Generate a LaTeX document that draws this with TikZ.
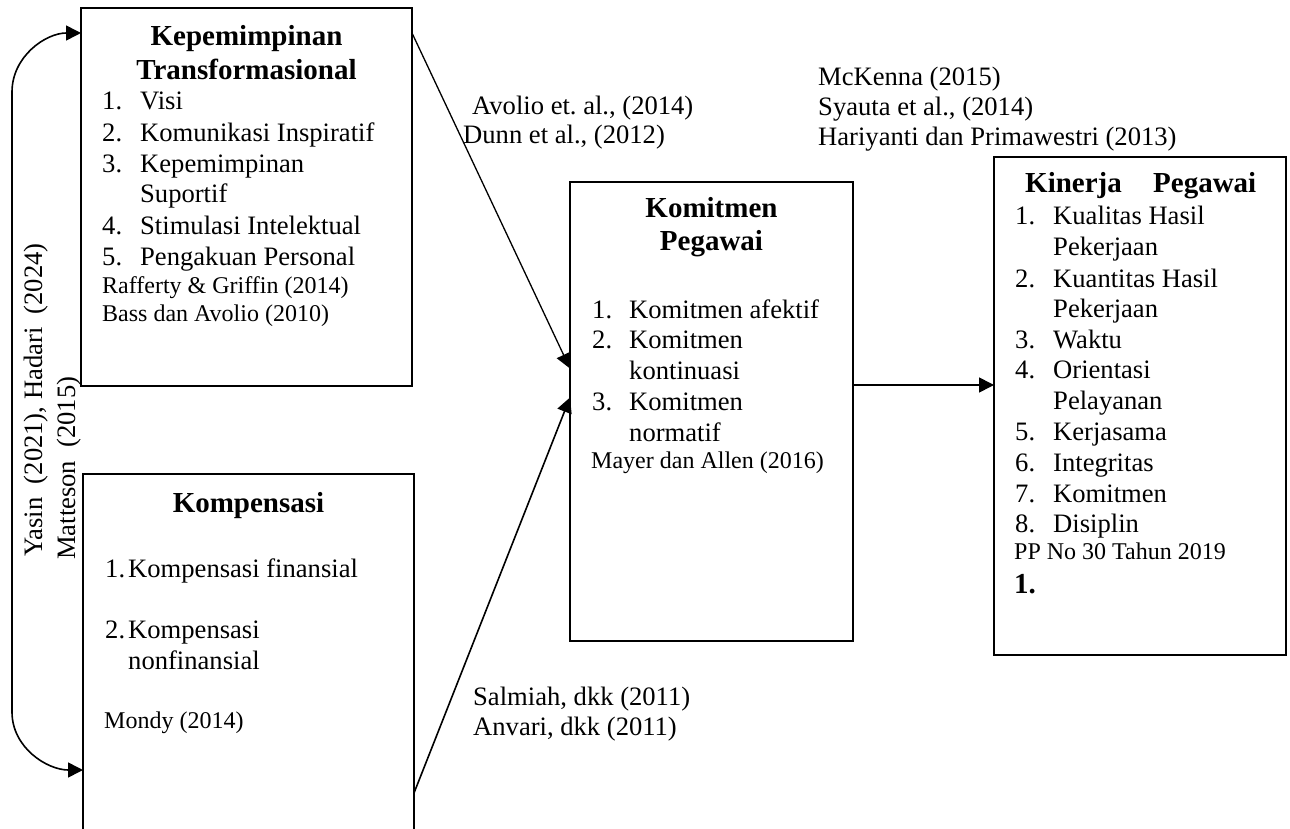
\documentclass[tikz,border=0pt]{standalone}
\usepackage{fontspec}
\setmainfont{Liberation Serif}
\usetikzlibrary{arrows.meta,calc}
\begin{document}
\frenchspacing
\begin{tikzpicture}[x=1pt,y=-1pt,
  >={Triangle[length=15pt,width=15pt]},
  box/.style={draw,line width=1.8pt,inner sep=0pt,outer sep=0pt,anchor=north west},
  arr/.style={->,line width=1.6pt},
  txt/.style={anchor=base west,inner sep=0pt,font=\fontsize{26.6}{30}\selectfont},
  sm/.style={anchor=base west,inner sep=0pt,font=\fontsize{24}{28}\selectfont},
  ttl/.style={anchor=base,inner sep=0pt,font=\bfseries\fontsize{29}{34}\selectfont},
  ttlw/.style={anchor=base west,inner sep=0pt,font=\bfseries\fontsize{29}{34}\selectfont}]
\useasboundingbox (0,0) rectangle (1290,829);
\clip (0,0) rectangle (1290,829);

% boxes
\node[box,minimum width=331pt,minimum height=378pt] (kp) at (81,8) {};
\node[box,minimum width=331pt,minimum height=450pt] (kom) at (83,474) {};
\node[box,minimum width=283pt,minimum height=459pt] (kmt) at (570,182) {};
\node[box,minimum width=292pt,minimum height=498pt] (kin) at (994,157) {};

% Kepemimpinan Transformasional
\node[ttl] (kpt1) at (246.5,46) {Kepemimpinan};
\node[ttl] (kpt2) at (246.5,80) {Transformasional};
\node[txt] (kpn1) at (102,110) {1.};  \node[txt] (kpi1) at (140,110) {Visi};
\node[txt] (kpn2) at (102,142) {2.};  \node[txt] (kpi2) at (140,142) {Komunikasi Inspiratif};
\node[txt] (kpn3) at (102,173) {3.};  \node[txt] (kpi3) at (140,173) {Kepemimpinan};
\node[txt] (kpi3b) at (140,203) {Suportif};
\node[txt] (kpn4) at (102,234) {4.};  \node[txt] (kpi4) at (140,234) {Stimulasi Intelektual};
\node[txt] (kpn5) at (102,265) {5.};  \node[txt] (kpi5) at (140,265) {Pengakuan Personal};
\node[sm] (kpc1) at (102,293) {Rafferty \& Griffin (2014)};
\node[sm] (kpc2) at (102,321) {Bass dan Avolio (2010)};

% Kompensasi
\node[ttl] (komt) at (248.5,512) {Kompensasi};
\node[txt] (komn1) at (105,577) {1.}; \node[txt] (komi1) at (128,577) {Kompensasi finansial};
\node[txt] (komn2) at (105,638) {2.}; \node[txt] (komi2) at (128,638) {Kompensasi};
\node[txt] (komi2b) at (128,669) {nonfinansial};
\node[sm] (komc) at (104,728) {Mondy (2014)};

% Komitmen Pegawai
\node[ttl] (kmtt1) at (711.5,218) {Komitmen};
\node[ttl] (kmtt2) at (711.5,250) {Pegawai};
\node[txt] (kmtn1) at (592,318) {1.}; \node[txt] (kmti1) at (629,318) {Komitmen afektif};
\node[txt] (kmtn2) at (592,348) {2.}; \node[txt] (kmti2) at (629,348) {Komitmen};
\node[txt] (kmti2b) at (629,379) {kontinuasi};
\node[txt] (kmtn3) at (592,410) {3.}; \node[txt] (kmti3) at (629,410) {Komitmen};
\node[txt] (kmti3b) at (629,441) {normatif};
\node[sm] (kmtc) at (591,468) {Mayer dan Allen (2016)};

% Kinerja Pegawai
\node[ttlw] (kint1) at (1025,193) {Kinerja};
\node[ttlw] (kint2) at (1153,193) {Pegawai};
\node[txt] (kinn1) at (1015,225) {1.}; \node[txt] (kini1) at (1053,225) {Kualitas Hasil};
\node[txt] (kini1b) at (1053,255) {Pekerjaan};
\node[txt] (kinn2) at (1015,287) {2.}; \node[txt] (kini2) at (1053,287) {Kuantitas Hasil};
\node[txt] (kini2b) at (1053,317) {Pekerjaan};
\node[txt] (kinn3) at (1015,348) {3.}; \node[txt] (kini3) at (1053,348) {Waktu};
\node[txt] (kinn4) at (1015,378) {4.}; \node[txt] (kini4) at (1053,378) {Orientasi};
\node[txt] (kini4b) at (1053,409) {Pelayanan};
\node[txt] (kinn5) at (1015,440) {5.}; \node[txt] (kini5) at (1053,440) {Kerjasama};
\node[txt] (kinn6) at (1015,471) {6.}; \node[txt] (kini6) at (1053,471) {Integritas};
\node[txt] (kinn7) at (1015,502) {7.}; \node[txt] (kini7) at (1053,502) {Komitmen};
\node[txt] (kinn8) at (1015,532) {8.}; \node[txt] (kini8) at (1053,532) {Disiplin};
\node[sm] (kinc) at (1014,559) {PP No 30 Tahun 2019};
\node[ttlw] (kinx) at (1014,593) {1.};

% citation labels
\node[txt] (c1a) at (472,115) {Avolio et. al., (2014)};
\node[txt] (c1b) at (463,144) {Dunn et al., (2012)};
\node[txt] (c2a) at (818,86) {McKenna (2015)};
\node[txt] (c2b) at (818,116) {Syauta et al., (2014)};
\node[txt] (c2c) at (818,146) {Hariyanti dan Primawestri (2013)};
\node[txt] (c3a) at (473,705) {Salmiah, dkk (2011)};
\node[txt] (c3b) at (473,735) {Anvari, dkk (2011)};

% rotated label
\node[txt,rotate=90] (rl1) at (42,557) {Yasin\ \ (2021), Hadari\ \ (2024)};
\node[txt,rotate=90] (rl2) at (75,560) {Matteson\ \ (2015)};

% connectors
\draw[arr,line width=1.3pt] ([yshift=-25pt]kp.north east) -- ([yshift=43pt]kmt.west);
\draw[arr] ([yshift=-319pt]kom.north east) -- ([yshift=14pt]kmt.west);
\draw[arr] ([yshift=-203pt]kmt.north east) -- ([yshift=-228pt]kin.north west);
\coordinate (lt) at (12,92);
\coordinate (lb) at (12,712);
\draw[<->,line width=1.6pt] ([yshift=-25pt]kp.north west) to[out=180,in=90] (lt) -- (lb) to[out=-90,in=180] ([yshift=-296pt]kom.north west);
\end{tikzpicture}
\end{document}
